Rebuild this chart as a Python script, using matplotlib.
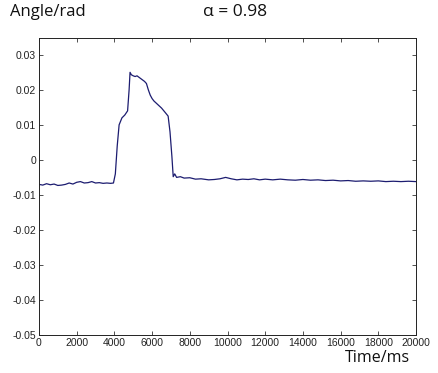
import matplotlib
matplotlib.use("Agg")
import matplotlib.pyplot as plt

time_ms = [0, 200, 400, 600, 800, 1000, 1200, 1400, 1600, 1800, 2000, 2200, 2400,
           2600, 2800, 3000, 3200, 3400, 3600, 3800, 3950, 4050, 4150, 4250, 4400,
           4550, 4700, 4780, 4830, 4900, 5000, 5100, 5200, 5300, 5400, 5500, 5600,
           5700, 5800, 5900, 6000, 6100, 6300, 6500, 6700, 6850, 6950, 7050, 7120,
           7200, 7300, 7500, 7700, 8000, 8300, 8600, 9000, 9300, 9600, 9900, 10200,
           10500, 10800, 11100, 11400, 11700, 12000, 12400, 12800, 13200, 13600,
           14000, 14400, 14800, 15200, 15600, 16000, 16400, 16800, 17200, 17600,
           18000, 18400, 18800, 19200, 19600, 20000]
angle_rad = [-0.0070, -0.0072, -0.0068, -0.0071, -0.0069, -0.0073, -0.0072, -0.0070,
             -0.0066, -0.0069, -0.0064, -0.0062, -0.0066, -0.0065, -0.0062, -0.0066,
             -0.0065, -0.0067, -0.0066, -0.0067, -0.0066, -0.0040, 0.0040, 0.0100,
             0.0120, 0.0128, 0.0140, 0.0200, 0.0250, 0.0243, 0.0240, 0.0238, 0.0240,
             0.0236, 0.0232, 0.0228, 0.0224, 0.0218, 0.0200, 0.0185, 0.0175, 0.0168,
             0.0158, 0.0148, 0.0135, 0.0125, 0.0080, 0.0010, -0.0048, -0.0040,
             -0.0050, -0.0048, -0.0052, -0.0051, -0.0055, -0.0054, -0.0057, -0.0056,
             -0.0054, -0.0050, -0.0054, -0.0057, -0.0055, -0.0056, -0.0054, -0.0057,
             -0.0055, -0.0057, -0.0055, -0.0057, -0.0058, -0.0056, -0.0058, -0.0057,
             -0.0059, -0.0058, -0.0060, -0.0059, -0.0061, -0.0060, -0.0061, -0.0060,
             -0.0062, -0.0061, -0.0062, -0.0061, -0.0062]

x_ticks = [0, 2000, 4000, 6000, 8000, 10000, 12000, 14000, 16000, 18000, 20000]
y_ticks = [-0.05, -0.04, -0.03, -0.02, -0.01, 0, 0.01, 0.02, 0.03]
y_tick_labels = ["-0.05", "-0.04", "-0.03", "-0.02", "-0.01", "0", "0.01", "0.02", "0.03"]

fig = plt.figure(figsize=(4.38, 3.73), dpi=100)
ax = fig.add_axes([39 / 438, 38 / 373, 377 / 438, 297 / 373])
ax.plot(time_ms, angle_rad, color="#1c1c70", linewidth=0.9)
ax.set_xlim(0, 20000)
ax.set_ylim(-0.05, 0.0348)
ax.set_xticks(x_ticks)
ax.set_xticklabels([str(v) for v in x_ticks])
ax.set_yticks(y_ticks)
ax.set_yticklabels(y_tick_labels)
ax.tick_params(direction="in", length=3, width=0.6, top=True, right=True,
               labelsize=7.5, colors="#333333", pad=2)
for lbl in ax.get_xticklabels() + ax.get_yticklabels():
    lbl.set_fontfamily("Liberation Sans")
    lbl.set_color("#222222")
for sp in ax.spines.values():
    sp.set_linewidth(0.7)
    sp.set_color("#222222")

fig.text(10 / 438, 1 - 12 / 373, "Angle/rad", fontsize=12, family="Open Sans",
         va="center", ha="left", color="#111111")
fig.text(203 / 438, 1 - 12 / 373, "α = 0.98", fontsize=12.5, family="Open Sans",
         va="center", ha="left", color="#111111")
fig.text(410 / 438, 1 - 358 / 373, "Time/ms", fontsize=11.5, family="Open Sans",
         va="center", ha="right", color="#111111")

fig.savefig("out.png", dpi=100)
